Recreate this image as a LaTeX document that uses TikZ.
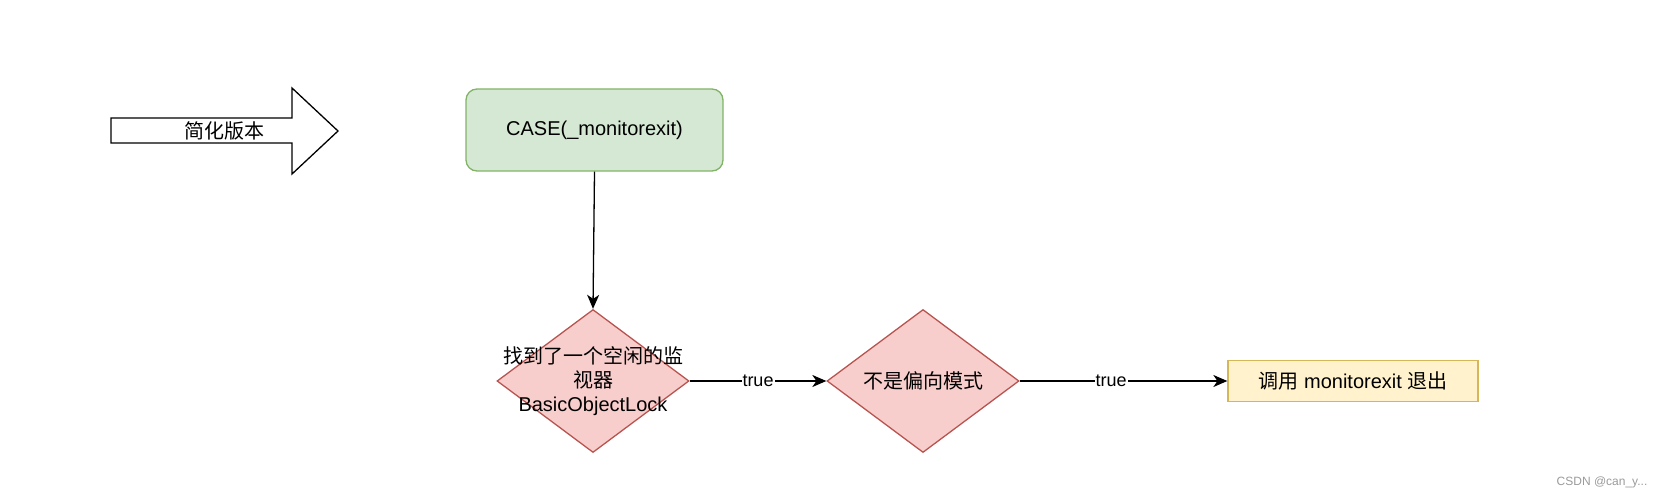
\documentclass[tikz,border=0pt]{standalone}
\usepackage{fontspec}
\setmainfont{Liberation Sans}
\newfontfamily\cjk{Noto Sans CJK SC}
\usetikzlibrary{shapes.geometric,arrows.meta}
\definecolor{gfill}{HTML}{D5E8D4}
\definecolor{gline}{HTML}{82B366}
\definecolor{rfill}{HTML}{F8CECC}
\definecolor{rline}{HTML}{B85450}
\definecolor{yfill}{HTML}{FFF2CC}
\definecolor{yline}{HTML}{D6B656}
\definecolor{wm}{HTML}{9A9A9A}
\tikzset{
  txt/.style={font=\fontsize{20}{24}\selectfont, align=center, inner sep=0pt},
  greenbox/.style={draw=gline, fill=gfill, line width=1.3pt, rounded corners=11pt, minimum width=257pt, minimum height=82pt, inner sep=0pt},
  decision/.style={diamond, draw=rline, fill=rfill, line width=1.3pt, minimum width=192pt, minimum height=143pt, inner sep=0pt},
  yellowbox/.style={draw=yline, fill=yfill, line width=1.3pt, minimum width=250pt, minimum height=41pt, inner sep=0pt},
  conn/.style={line width=1.3pt, -{Stealth[length=14pt,width=12pt,inset=4pt]}},
  elabel/.style={fill=white, font=\fontsize{18}{20}\selectfont, inner sep=1pt}
}
\begin{document}
\begin{tikzpicture}[x=1pt,y=-1pt]
\useasboundingbox (0,0) rectangle (1670,500);
% big outline arrow
\draw[line width=1.3pt, fill=white] (111,118) -- (292,118) -- (292,88) -- (338,131) -- (292,174) -- (292,143) -- (111,143) -- cycle;
\node[txt] (ver) at (224,131) {\cjk 简化版本};
% nodes
\node[greenbox] (case) at (594.5,130) {};
\node[txt] (caset) at (case) {CASE(\_monitorexit)};
\node[decision] (d1) at (593,381) {};
\node[txt] (d1t) at (d1) {\cjk 找到了一个空闲的监\\\cjk 视器\\BasicObjectLock};
\node[decision] (d2) at (923,381) {};
\node[txt] (d2t) at (d2) {\cjk 不是偏向模式};
\node[yellowbox] (exit) at (1353,381) {};
\node[txt] (exitt) at (exit) {{\cjk 调用} monitorexit {\cjk 退出}};
% connectors
\draw[conn] (case.south) -- (d1.north);
\draw[conn] (d1.east) -- node[elabel, pos=0.5] {true} (d2.west);
\draw[conn] (d2.east) -- node[elabel, pos=0.44] {true} (exit.west);
% watermark
\node[font=\fontsize{12}{14}\selectfont, text=wm, inner sep=0pt] (wmk) at (1602,482) {CSDN @can\_y...};
\end{tikzpicture}
\end{document}
